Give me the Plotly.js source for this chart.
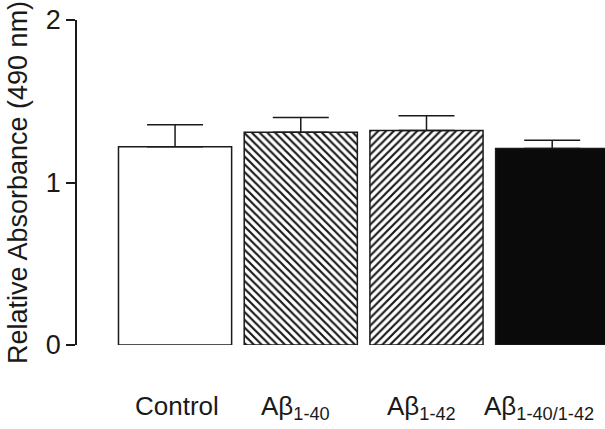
<!DOCTYPE html>
<html>
<head>
<meta charset="utf-8">
<script src="https://cdn.plot.ly/plotly-3.0.1.min.js"></script>
<style>html,body{margin:0;padding:0;background:#fff;}#chart{width:605px;height:429px;}</style>
</head>
<body>
<div id="chart"></div>
<script>
// ---- data ----
const categories = ["Control", "Ab1-40", "Ab1-42", "Ab1-40/1-42"];
const categoryLabels = ["Control", "Aβ<sub>1-40</sub>", "Aβ<sub>1-42</sub>", "Aβ<sub>1-40/1-42</sub>"];
const meanValues = [1.22, 1.31, 1.32, 1.21];
const errorValues = [0.135, 0.09, 0.09, 0.05];
const yTickValues = [0, 1, 2];
const yTickLabels = ["0", "1", "2"];

// ---- styles ----
const fillColors = ["#ffffff", "#ffffff", "#ffffff", "#0a0a0a"];
const patternShapes = ["", "\\", "/", ""];
const labelShift = [2, -5, -5, -13];
const FONT = "Arial, 'Liberation Sans', Helvetica, sans-serif";
const INK = "#1a1a1a";

const traces = categories.map((c, i) => {
  const marker = {color: fillColors[i], line: {color: INK, width: 1.5}};
  if (patternShapes[i]) {
    marker.pattern = {shape: patternShapes[i], fgcolor: INK, bgcolor: "#ffffff", size: 5.5, solidity: 0.4};
  }
  return {
    type: "bar",
    x: [c],
    y: [meanValues[i]],
    width: 0.9,
    marker: marker,
    error_y: {
      type: "data", symmetric: false, array: [errorValues[i]], arrayminus: [0],
      color: INK, thickness: 1.5, width: 28
    },
    hoverinfo: "none"
  };
});

const annotations = categories.map((c, i) => ({
  x: c, xref: "x", y: 0, yref: "paper",
  xanchor: "center", yanchor: "top", yshift: -44, xshift: labelShift[i],
  text: categoryLabels[i], showarrow: false,
  font: {family: FONT, size: 26, color: INK}
}));

const layout = {
  width: 605, height: 429,
  margin: {l: 77, r: 0, t: 20, b: 84},
  paper_bgcolor: "#ffffff", plot_bgcolor: "#ffffff",
  showlegend: false, barmode: "overlay",
  font: {family: FONT, size: 26, color: INK},
  xaxis: {
    type: "category", categoryorder: "array", categoryarray: categories, range: [-0.78, 3.42],
    showticklabels: false, ticks: "", showline: false, showgrid: false, zeroline: false
  },
  yaxis: {
    range: [0, 2], tickvals: yTickValues, ticktext: yTickLabels,
    ticks: "outside", ticklen: 9, tickwidth: 1.5, tickcolor: INK,
    showline: true, linecolor: INK, linewidth: 1.5,
    showgrid: false, zeroline: false,
    tickfont: {family: FONT, size: 27, color: INK},
    title: {text: "Relative Absorbance (490 nm)", font: {family: FONT, size: 27, color: INK}, standoff: 10}
  },
  annotations: annotations
};

Plotly.newPlot("chart", traces, layout, {displayModeBar: false});
</script>
</body>
</html>
